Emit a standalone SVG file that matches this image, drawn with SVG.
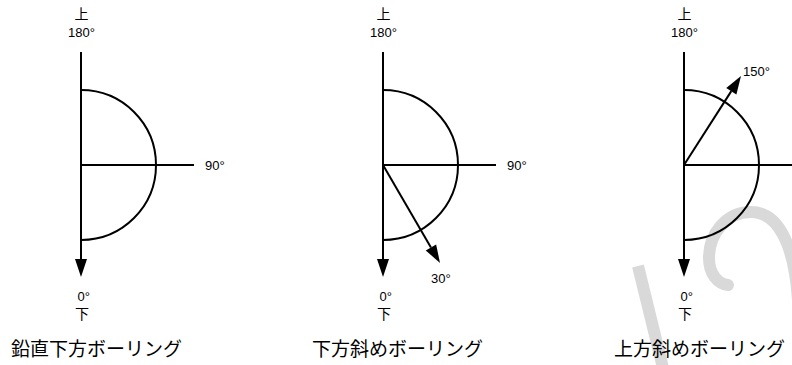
<svg xmlns="http://www.w3.org/2000/svg" width="792" height="365" viewBox="0 0 792 365">
<style>
.ln{stroke:#000;stroke-width:2;fill:none}
.arc{stroke:#000;stroke-width:2;fill:none}
.deg{font-family:"Liberation Sans",Arial,sans-serif;font-size:13px;fill:#000}
.jp{font-family:"Noto Sans CJK JP","Noto Sans CJK SC",sans-serif;fill:#000}
.kanji{font-size:14px}
.title{font-size:19px}
.wm{stroke:#d9d9d9;fill:none;stroke-width:12}
</style>
<defs>
<marker id="ah" markerUnits="userSpaceOnUse" markerWidth="20" markerHeight="14" refX="0" refY="6" orient="auto" overflow="visible">
<path d="M0,0 L18,6 L0,12 z" fill="#000"/>
</marker>
</defs>
<rect width="792" height="365" fill="#fff"/>
<g id="watermark">
<path class="wm" d="M638,266 L664,372" stroke-width="10"/>
<path class="wm" stroke-linecap="round" d="M798,300 C794,240 776,212 751,212 C726,212 709,234 709,258 C709,274 718,284 728,285"/>
</g>
<g id="connectors">
<line class="ln" x1="81" y1="52" x2="81" y2="259" marker-end="url(#ah)"/>
<line class="ln" x1="81" y1="165" x2="194" y2="165"/>
<line class="ln" x1="383" y1="52" x2="383" y2="259" marker-end="url(#ah)"/>
<line class="ln" x1="383" y1="165" x2="496" y2="165"/>
<line class="ln" x1="383" y1="165" x2="430.95" y2="247.45" marker-end="url(#ah)"/>
<line class="ln" x1="684" y1="52" x2="684" y2="259" marker-end="url(#ah)"/>
<line class="ln" x1="684" y1="165" x2="800" y2="165"/>
<line class="ln" x1="684" y1="165" x2="731.3" y2="91.16" marker-end="url(#ah)"/>
</g>
<g id="diagram1">
<path class="arc" d="M81,90 A75,75 0 0 1 81,240"/>
<text class="jp kanji" x="81.5" y="19" text-anchor="middle">上</text>
<text class="deg" x="81.5" y="37" text-anchor="middle">180°</text>
<text class="deg" x="205" y="170">90°</text>
<text class="deg" x="77.5" y="301">0°</text>
<text class="jp kanji" x="82" y="319" text-anchor="middle">下</text>
<text class="jp title" x="11" y="356">鉛直下方ボーリング</text>
</g>
<g id="diagram2">
<path class="arc" d="M383,90 A75,75 0 0 1 383,240"/>
<text class="jp kanji" x="383.5" y="19" text-anchor="middle">上</text>
<text class="deg" x="383.5" y="37" text-anchor="middle">180°</text>
<text class="deg" x="507" y="170">90°</text>
<text class="deg" x="431" y="283">30°</text>
<text class="deg" x="379.5" y="301">0°</text>
<text class="jp kanji" x="384" y="319" text-anchor="middle">下</text>
<text class="jp title" x="312" y="356">下方斜めボーリング</text>
</g>
<g id="diagram3">
<path class="arc" d="M684,90 A75,75 0 0 1 684,240"/>
<text class="jp kanji" x="684.5" y="19" text-anchor="middle">上</text>
<text class="deg" x="684.5" y="37" text-anchor="middle">180°</text>
<text class="deg" x="743" y="76">150°</text>
<text class="deg" x="680.5" y="301">0°</text>
<text class="jp kanji" x="685" y="319" text-anchor="middle">下</text>
<text class="jp title" x="614" y="356">上方斜めボーリング</text>
</g>
</svg>
